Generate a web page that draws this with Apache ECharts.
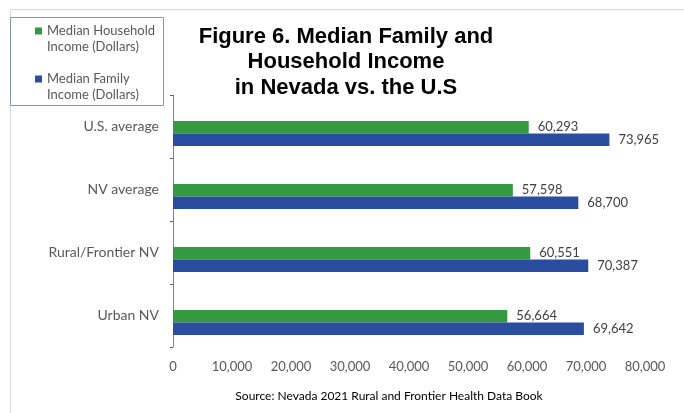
<!DOCTYPE html>
<html>
<head>
<meta charset="utf-8">
<script src="https://cdn.jsdelivr.net/npm/echarts@6/dist/echarts.min.js"></script>
<style>
html,body{margin:0;padding:0;background:#fff;}
#chart{width:684px;height:413px;}
</style>
</head>
<body>
<div id="chart"></div>
<script>
var categories = ["U.S. average", "NV average", "Rural/Frontier NV", "Urban NV"];
var householdIncome = [60293, 57598, 60551, 56664];
var familyIncome = [73965, 68700, 70387, 69642];
var seriesNames = ["Median Household Income (Dollars)", "Median Family Income (Dollars)"];
var xTicks = {min: 0, max: 80000, interval: 10000};
var titleText = "Figure 6. Median Family and\nHousehold Income\nin Nevada vs. the U.S";
var sourceText = "Source: Nevada 2021 Rural and Frontier Health Data Book";

var chart = echarts.init(document.getElementById('chart'), null, {renderer: 'canvas'});
var fmt = function (v) { return Number(v).toLocaleString('en-US'); };
var labelFont = "Lato, 'Open Sans', sans-serif";
var grey = '#595959';

chart.setOption({
  animation: false,
  backgroundColor: '#ffffff',
  graphic: [{
    type: 'rect', silent: true, z: -1,
    shape: {x: 10.5, y: 9.5, width: 700, height: 420},
    style: {fill: 'none', stroke: '#d9d9d9', lineWidth: 1}
  }, {
    type: 'rect', silent: true,
    shape: {x: 10.5, y: 17.5, width: 153, height: 88},
    style: {fill: 'none', stroke: '#8099b6', lineWidth: 1}
  }],
  title: [{
    text: titleText,
    left: 341, top: 19, textAlign: 'center',
    textStyle: {fontFamily: "'Liberation Sans', Arial, sans-serif", fontWeight: 'bold', fontSize: 22, lineHeight: 25.5, color: '#000'}
  }, {
    text: sourceText,
    left: 384, top: 384, textAlign: 'center',
    textStyle: {fontFamily: labelFont, fontWeight: 'normal', fontSize: 12, lineHeight: 14, color: '#000'}
  }],
  legend: {
    data: seriesNames,
    orient: 'vertical',
    left: 35, top: 7,
    padding: 0,
    itemWidth: 7, itemHeight: 7, itemGap: 0,
    icon: 'rect',
    formatter: function (n) { return '\n' + n.replace(' Income', '\nIncome'); },
    textStyle: {fontFamily: labelFont, fontSize: 13, color: grey, lineHeight: 16}
  },
  grid: [
    {left: 173, right: 39, top: 95, bottom: 66, containLabel: false},
    {left: 173, right: 39, top: 102, bottom: 59, containLabel: false}
  ],
  xAxis: [{
    gridIndex: 0, type: 'value', min: xTicks.min, max: xTicks.max, interval: xTicks.interval,
    axisLine: {show: false}, axisTick: {show: false}, splitLine: {show: false},
    axisLabel: {formatter: fmt, color: grey, fontFamily: labelFont, fontSize: 13, margin: 13}
  }, {
    gridIndex: 1, type: 'value', min: xTicks.min, max: xTicks.max, interval: xTicks.interval,
    show: false, splitLine: {show: false}
  }],
  yAxis: [{
    gridIndex: 0, type: 'category', data: categories, inverse: true,
    axisLine: {show: true, lineStyle: {color: '#868686', width: 1}},
    axisTick: {show: true, length: 3, lineStyle: {color: '#595959'}},
    axisLabel: {color: grey, fontFamily: labelFont, fontSize: 14, margin: 14}
  }, {
    gridIndex: 1, type: 'category', data: categories, inverse: true, show: false
  }],
  series: [{
    name: seriesNames[0], type: 'bar', data: householdIncome,
    xAxisIndex: 1, yAxisIndex: 1,
    itemStyle: {color: '#339a3f'},
    barGap: '0%', barWidth: 12.5,
    label: {show: true, position: 'right', distance: 9, formatter: function (p) { return fmt(p.value); },
      color: '#404040', fontFamily: labelFont, fontSize: 13}
  }, {
    name: seriesNames[1], type: 'bar', data: familyIncome,
    xAxisIndex: 1, yAxisIndex: 1,
    itemStyle: {color: '#2b4d9f'},
    barGap: '0%', barWidth: 12.5,
    label: {show: true, position: 'right', distance: 9, formatter: function (p) { return fmt(p.value); },
      color: '#404040', fontFamily: labelFont, fontSize: 13}
  }]
});
</script>
</body>
</html>
